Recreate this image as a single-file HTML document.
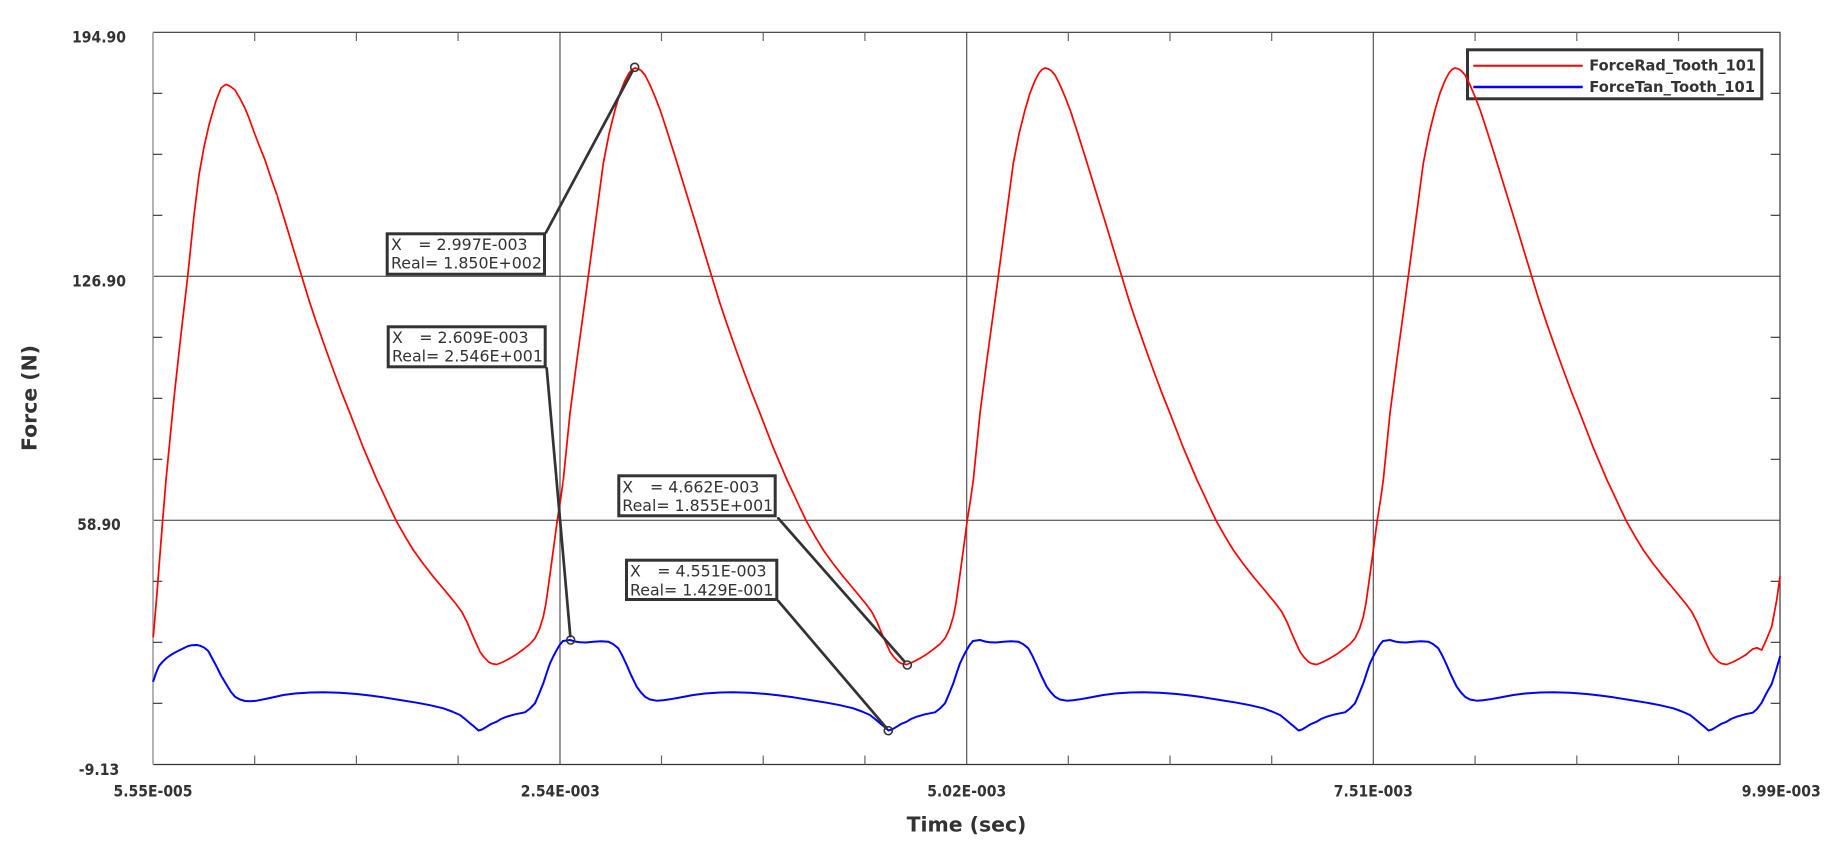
<!DOCTYPE html>
<html>
<head>
<meta charset="utf-8">
<style>
  html, body { margin:0; padding:0; background:#ffffff; }
  svg { display:block; }
  .lbl { font-family:"DejaVu Sans","Liberation Sans",sans-serif; font-weight:bold; font-size:16px; fill:#333333; }
  .ttl { font-family:"DejaVu Sans","Liberation Sans",sans-serif; font-weight:bold; font-size:20.4px; fill:#333333; }
  .ann { font-family:"DejaVu Sans","Liberation Sans",sans-serif; font-size:15.8px; fill:#333333; }
  .leg { font-family:"DejaVu Sans","Liberation Sans",sans-serif; font-weight:bold; font-size:15.5px; fill:#333333; }
</style>
</head>
<body>
<svg xmlns="http://www.w3.org/2000/svg" xmlns:xlink="http://www.w3.org/1999/xlink" width="1828" height="844" viewBox="0 0 1828 844">
  <defs>
    <path id="rt" fill="none" stroke="#ff0000" stroke-width="1.7" stroke-linejoin="round" stroke-linecap="round"
      d="M563.3,480 L570,413.3 L576.5,363 L583.3,313.3 L588.3,276.3 L595.5,222 L603.3,163.3 L609,134 L615,110 L620,93 L625,80.5 L629,73 L632,69.5 L635,68 L638,68.8 L641,70.5 L645,75 L650,85 L655,96.7 L660.5,111 L666.7,130 L675,156.3 L683.3,183.3 L690,205 L696.7,226.7 L704,251 L711.7,276.3 L719,300.3 L726.7,323.3 L735,347 L743.3,370 L751.5,392 L760,413.3 L773,447 L787,480 L793.3,493.3 L800,507.8 L806.7,521.7 L815,536.3 L823.3,550 L833,563.5 L843.3,576.7 L852,587 L860,596.7 L866,604 L871.7,611.7 L877,622 L881.7,633.3 L886,643 L890,651.7 L894,657.2 L898.3,661.7 L902,663.7 L906.7,664.5 L913,662 L920,658.3 L927,654 L933.3,649.3 L940,644 L945,638.3 L949.5,629 L953.3,616.7 L956,603 L958.3,586.7 L961,567 L963.3,550 L967.3,520 L970.5,500 L973.3,480"/>
    <path id="bt" fill="none" stroke="#0000ff" stroke-width="2" stroke-linejoin="round" stroke-linecap="round"
      d="M563,641 L570,640 L575,641.5 L580,642.3 L586,642.5 L593.3,641.7 L601,641.2 L608.3,641.7 L613,644 L618.3,648.3 L622,655 L626.7,665 L631,675 L636.7,686.7 L641,692.5 L645,696.7 L650,699.5 L656.7,700.7 L663,700.3 L670,699.3 L680,697.5 L693.3,695 L705,693.5 L720,692.5 L733.3,692.3 L750,692.8 L766.7,694 L780,695.5 L793.3,697.3 L810,700 L826.7,702.7 L840,705.2 L853.3,708.3 L862,711.5 L870,715 L875,719 L880,723.3 L884,726.5 L888.5,730.5 L892,729.5 L896.7,726.7 L901,724 L906.7,721.7 L911,719 L916.7,716.7 L925,714.3 L935,712.3 L940,708.5 L945,703.3 L949,694 L953.3,683.3 L957,672 L960,663.3 L963.5,656 L966.7,650 L970,644.5 L973,641"/>
    <clipPath id="c1r" clipPathUnits="userSpaceOnUse"><rect x="276.7" y="0" width="287" height="844"/></clipPath>
    <clipPath id="c1b" clipPathUnits="userSpaceOnUse"><rect x="283.3" y="0" width="280" height="844"/></clipPath>
    <clipPath id="c4" clipPathUnits="userSpaceOnUse"><rect x="1370" y="0" width="377" height="844"/></clipPath>
  </defs>

  <rect x="0" y="0" width="1828" height="844" fill="#ffffff"/>

  <!-- grid lines -->
  <g stroke="#333333" stroke-width="1" fill="none">
    <path d="M153,276.3 H1780 M153,520.3 H1780"/>
  </g>
  <g stroke="#555555" stroke-width="1.2" fill="none">
    <path d="M560,32.3 V764.5 M966.7,32.3 V764.5 M1373.3,32.3 V764.5"/>
  </g>

  <!-- axes -->
  <path d="M153,32.3 H1780 V764.5 H153" fill="none" stroke="#333333" stroke-width="1.2"/>
  <path d="M153,32.3 V764.5" fill="none" stroke="#aaaaaa" stroke-width="1.8"/>

  <!-- y ticks -->
  <g stroke="#333333" stroke-width="1.1" fill="none">
    <path d="M153,93.3 H162.3 M153,154.3 H162.3 M153,215.3 H162.3 M153,337.3 H162.3 M153,398.3 H162.3 M153,459.3 H162.3 M153,581.3 H162.3 M153,642.3 H162.3 M153,703.3 H162.3"/>
    <path d="M1770.7,93.3 H1780 M1770.7,154.3 H1780 M1770.7,215.3 H1780 M1770.7,337.3 H1780 M1770.7,398.3 H1780 M1770.7,459.3 H1780 M1770.7,581.3 H1780 M1770.7,642.3 H1780 M1770.7,703.3 H1780"/>
  </g>
  <!-- x ticks -->
  <g stroke="#666666" stroke-width="1.2" fill="none">
    <path d="M254.7,32.3 V41 M356.4,32.3 V41 M458.1,32.3 V41 M661.5,32.3 V41 M763.2,32.3 V41 M864.9,32.3 V41 M1068.3,32.3 V41 M1170,32.3 V41 M1271.7,32.3 V41 M1475.1,32.3 V41 M1576.8,32.3 V41 M1678.5,32.3 V41"/>
    <path d="M254.7,764.5 V755.5 M356.4,764.5 V755.5 M458.1,764.5 V755.5 M661.5,764.5 V755.5 M763.2,764.5 V755.5 M864.9,764.5 V755.5 M1068.3,764.5 V755.5 M1170,764.5 V755.5 M1271.7,764.5 V755.5 M1475.1,764.5 V755.5 M1576.8,764.5 V755.5 M1678.5,764.5 V755.5"/>
  </g>

  <!-- legend box -->
  <rect x="1467.5" y="49.8" width="294.3" height="49" fill="#ffffff" stroke="#333333" stroke-width="3"/>
  <path d="M1473.3,65.7 H1582.7" stroke="#ff0000" stroke-width="2"/>
  <path d="M1473.3,87 H1582.7" stroke="#0000ff" stroke-width="2.6"/>
  <text class="leg" x="1589.3" y="70.7" textLength="166.7" lengthAdjust="spacingAndGlyphs">ForceRad_Tooth_101</text>
  <text class="leg" x="1589.3" y="91.8" textLength="165.7" lengthAdjust="spacingAndGlyphs">ForceTan_Tooth_101</text>

  <!-- red series -->
  <path fill="none" stroke="#ff0000" stroke-width="1.7" stroke-linejoin="round" stroke-linecap="round"
    d="M153.3,636.7 L156.7,596.7 L159.7,558 L162.7,520 L166,480 L174,398 L180.7,337 L187.7,276.3 L194,215.3 L199,175 L204,147 L209,125 L215.7,101.7 L221,88 L226,84.3 L230.5,86.5 L235,90 L240,98.5 L245,108.3 L249,118 L253.3,130 L259,145 L265,160 L271,178 L276.7,194.3"/>
  <g clip-path="url(#c1r)"><use href="#rt" xlink:href="#rt" transform="translate(-410,0)"/></g>
  <use href="#rt" xlink:href="#rt"/>
  <use href="#rt" xlink:href="#rt" transform="translate(410,0)"/>
  <g clip-path="url(#c4)"><use href="#rt" xlink:href="#rt" transform="translate(820,0)"/></g>
  <path fill="none" stroke="#ff0000" stroke-width="1.7" stroke-linejoin="round" stroke-linecap="round"
    d="M1745,655.5 L1752.7,649 L1757,647.8 L1761.7,650 L1766,640.5 L1771.7,626.7 L1776.7,600 L1780,576.7"/>

  <!-- blue series -->
  <path fill="none" stroke="#0000ff" stroke-width="2" stroke-linejoin="round" stroke-linecap="round"
    d="M153.3,681 L156,673 L159,666 L162.7,661.7 L166,658.5 L170,655.5 L175,652.5 L180,650 L184,648 L188.3,646 L192,645.2 L196.7,645 L200,645.7 L204,647.5 L208.3,651 L212,658 L216.7,666.7 L221,675.5 L226.7,685 L231,692 L235,696.7 L240,699.5 L245,701 L250,701.2 L256.7,700.7 L270,698 L283.3,695"/>
  <g clip-path="url(#c1b)"><use href="#bt" xlink:href="#bt" transform="translate(-410,0)"/></g>
  <use href="#bt" xlink:href="#bt"/>
  <use href="#bt" xlink:href="#bt" transform="translate(410,0)"/>
  <g clip-path="url(#c4)"><use href="#bt" xlink:href="#bt" transform="translate(820,0)"/></g>
  <path fill="none" stroke="#0000ff" stroke-width="2" stroke-linejoin="round" stroke-linecap="round"
    d="M1745,714.3 L1752.7,712.7 L1757,709 L1761.7,702.7 L1766,694 L1771.7,684 L1776,670.5 L1780,656.7"/>

  <!-- annotation leaders -->
  <g stroke="#333333" stroke-width="2.7" fill="none" stroke-linecap="round">
    <path d="M546,232.5 L632.5,71"/>
    <path d="M546.7,368.3 L570.3,636.3"/>
    <path d="M778.3,518.3 L904.5,661.5"/>
    <path d="M778.3,601 L886.3,727.8"/>
  </g>
  <!-- markers -->
  <g stroke="#333333" stroke-width="1.6" fill="none">
    <circle cx="634.7" cy="67.3" r="4"/>
    <circle cx="570.7" cy="640" r="4"/>
    <circle cx="907.3" cy="665" r="4"/>
    <circle cx="888.3" cy="730.7" r="4"/>
  </g>

  <!-- annotation boxes -->
  <g fill="#ffffff" stroke="#333333" stroke-width="3">
    <rect x="387.2" y="233.8" width="157.3" height="40.4"/>
    <rect x="388.2" y="326.8" width="157" height="40"/>
    <rect x="618.8" y="475.8" width="156.4" height="40"/>
    <rect x="626.5" y="560.2" width="150.3" height="39.3"/>
  </g>
  <text class="ann" x="391" y="250">X</text>
  <text class="ann" x="418.3" y="250">= 2.997E-003</text>
  <text class="ann" x="391" y="268.7">Real= 1.850E+002</text>

  <text class="ann" x="392" y="343">X</text>
  <text class="ann" x="419.3" y="343">= 2.609E-003</text>
  <text class="ann" x="392" y="361.7">Real= 2.546E+001</text>

  <text class="ann" x="622.3" y="492.3">X</text>
  <text class="ann" x="650" y="492.3">= 4.662E-003</text>
  <text class="ann" x="622.3" y="511">Real= 1.855E+001</text>

  <text class="ann" x="630" y="576.7">X</text>
  <text class="ann" x="657.3" y="576.7">= 4.551E-003</text>
  <text class="ann" x="630" y="595.3">Real= 1.429E-001</text>

  <!-- y labels -->
  <text class="lbl" x="99" y="42.3" text-anchor="middle" textLength="54" lengthAdjust="spacingAndGlyphs">194.90</text>
  <text class="lbl" x="99" y="286.3" text-anchor="middle" textLength="54" lengthAdjust="spacingAndGlyphs">126.90</text>
  <text class="lbl" x="99" y="529.8" text-anchor="middle" textLength="43.5" lengthAdjust="spacingAndGlyphs">58.90</text>
  <text class="lbl" x="99" y="775" text-anchor="middle" textLength="40.5" lengthAdjust="spacingAndGlyphs">-9.13</text>

  <!-- x labels -->
  <text class="lbl" x="153" y="796.7" text-anchor="middle" textLength="79" lengthAdjust="spacingAndGlyphs">5.55E-005</text>
  <text class="lbl" x="560.3" y="796.7" text-anchor="middle" textLength="79" lengthAdjust="spacingAndGlyphs">2.54E-003</text>
  <text class="lbl" x="966.7" y="796.7" text-anchor="middle" textLength="79" lengthAdjust="spacingAndGlyphs">5.02E-003</text>
  <text class="lbl" x="1373.3" y="796.7" text-anchor="middle" textLength="79" lengthAdjust="spacingAndGlyphs">7.51E-003</text>
  <text class="lbl" x="1781.2" y="796.7" text-anchor="middle" textLength="79" lengthAdjust="spacingAndGlyphs">9.99E-003</text>

  <!-- axis titles -->
  <text class="ttl" x="966.5" y="831.7" text-anchor="middle">Time (sec)</text>
  <text class="ttl" x="0" y="0" text-anchor="middle" transform="translate(36.7,398) rotate(-90)">Force (N)</text>
</svg>
</body>
</html>
